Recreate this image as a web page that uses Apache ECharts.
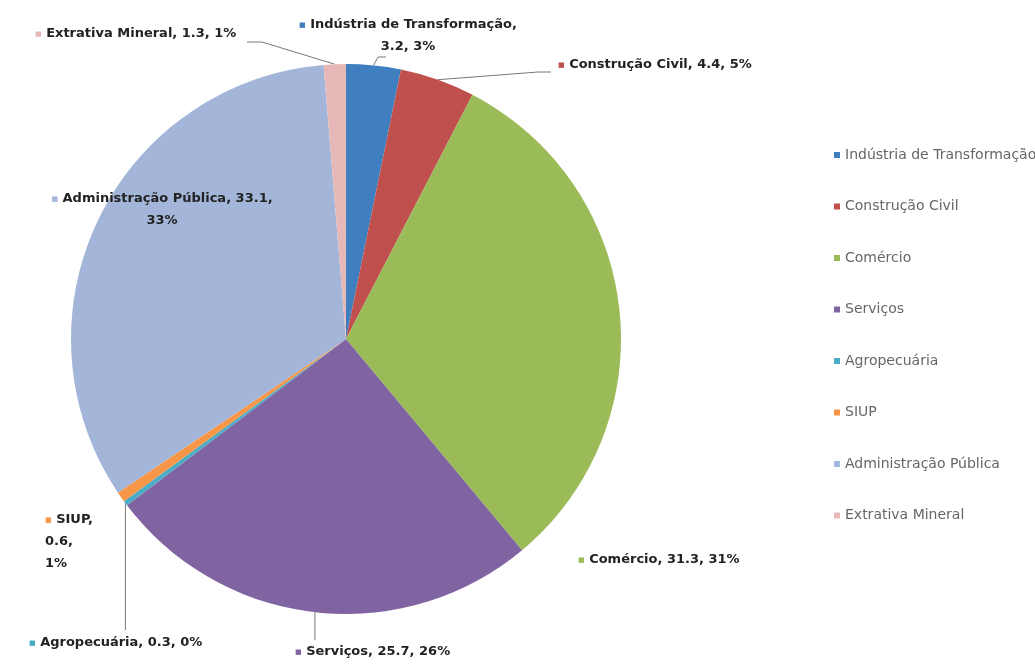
<!DOCTYPE html>
<html>
<head>
<meta charset="utf-8">
<script src="https://cdn.jsdelivr.net/npm/echarts@6/dist/echarts.min.js"></script>
<style>
html,body{margin:0;padding:0;background:#fff;}
#chart{width:1035px;height:667px;}
</style>
</head>
<body>
<div id="chart"></div>
<script>
const categories = ["Indústria de Transformação", "Construção Civil", "Comércio", "Serviços", "Agropecuária", "SIUP", "Administração Pública", "Extrativa Mineral"];
const values = [3.2, 4.4, 31.3, 25.7, 0.3, 0.6, 33.1, 1.3];
const colors = ["#3f7fbf", "#c0504d", "#9bbb59", "#8064a2", "#4bacc6", "#f79646", "#a3b5d8", "#e6b9b8"];

// label placement per category index (x, y, alignment), and leader-line bend points
const labelSpots = [
  {x: 408, y: 36, align: 'center', bend: [[378, 57], [386, 57]]},
  {x: 558, y: 65, align: 'left', bend: [[538, 72], [551, 72]]},
  {x: 578, y: 560, align: 'left', bend: null},
  {x: 295, y: 652, align: 'left', bend: 'down', to: 640},
  {x: 29, y: 643, align: 'left', bend: 'down', to: 630},
  {x: 45, y: 542, align: 'left', bend: null},
  {x: 162, y: 210, align: 'center', bend: null},
  {x: 35, y: 34, align: 'left', bend: [[262, 42], [247, 42]]}
];

function fmtNum(v){ return v.toFixed(1); }

const chart = echarts.init(document.getElementById('chart'));
const labelText = {
  0: p => '{m|■} ' + p.name + ',\n' + fmtNum(p.value) + ', ' + p.percent + '%',
  5: p => '{m|■} ' + p.name + ',\n' + fmtNum(p.value) + ',\n' + p.percent + '%',
  6: p => '{m|■} ' + p.name + ', ' + fmtNum(p.value) + ',\n' + p.percent + '%'
};
chart.setOption({
  animation: false,
  color: colors,
  legend: {
    orient: 'vertical',
    left: 829,
    top: 143,
    itemWidth: 6,
    itemHeight: 6,
    itemGap: 37.5,
    icon: 'rect',
    textStyle: {fontFamily: 'DejaVu Sans', fontSize: 14, color: '#666'},
    data: categories
  },
  series: [{
    type: 'pie',
    center: [346, 339],
    radius: [0, 275],
    startAngle: 90,
    clockwise: true,
    percentPrecision: 0,
    avoidLabelOverlap: false,
    data: categories.map((c, i) => ({name: c, value: values[i], itemStyle: {color: colors[i]}})),
    label: {
      show: true,
      position: 'outside',
      fontFamily: 'DejaVu Sans',
      fontWeight: 'bold',
      fontSize: 13,
      color: '#222',
      lineHeight: 22,
      formatter: p => (labelText[p.dataIndex] ? labelText[p.dataIndex](p) : '{m|■} ' + p.name + ', ' + fmtNum(p.value) + ', ' + p.percent + '%'),
      rich: {m: {fontSize: 7, color: 'inherit'}}
    },
    labelLine: {show: true, length: 10, length2: 10, lineStyle: {color: '#777', width: 1}},
    labelLayout: function(params){
      const s = labelSpots[params.dataIndex];
      const out = {x: s.x, y: s.y, align: s.align, verticalAlign: 'middle'};
      const pts = params.labelLinePoints;
      if (pts && pts.length) {
        const a = pts[0];
        if (s.bend === null) {
          out.labelLinePoints = [a, a, a];
        } else if (s.bend === 'down') {
          out.labelLinePoints = [a, [a[0], s.to], [a[0], s.to]];
        } else {
          out.labelLinePoints = [a, s.bend[0], s.bend[1]];
        }
      }
      return out;
    }
  }]
});
</script>
</body>
</html>
